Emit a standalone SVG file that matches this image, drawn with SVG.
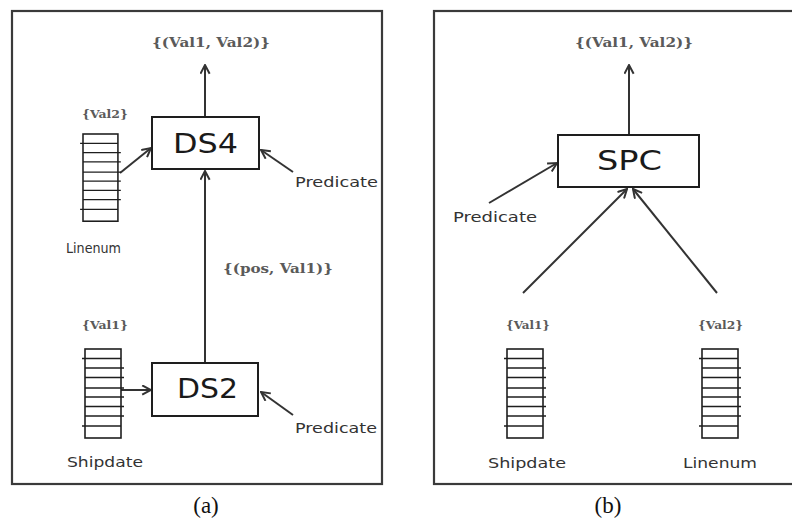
<svg xmlns="http://www.w3.org/2000/svg" xmlns:xlink="http://www.w3.org/1999/xlink" width="792" height="523" viewBox="0 0 792 523">
  <style>
    .frame { fill: none; stroke: #3a3a3a; stroke-width: 2.2; }
    .box { fill: #ffffff; stroke: #1e1e1e; stroke-width: 2; }
    .boxlabel { font-family: "DejaVu Sans", sans-serif; font-size: 27px; fill: #1a1a1a; text-anchor: middle; }
    .lbl { font-family: "DejaVu Sans", sans-serif; font-size: 14px; fill: #333333; }
    .val { font-family: "DejaVu Serif", serif; font-size: 11px; fill: #5a5a5a; font-weight: bold; }
    .set { font-family: "DejaVu Serif", serif; font-size: 12px; fill: #5a5a5a; font-weight: bold; }
    .cap { font-family: "Liberation Serif", serif; font-size: 23px; fill: #111111; text-anchor: middle; }
    .edge { fill: none; stroke: #333333; stroke-width: 2; marker-end: url(#open); }
    .col rect { fill: #ffffff; stroke: #1e1e1e; stroke-width: 1.6; }
    .col line { stroke: #1e1e1e; stroke-width: 1.3; }
  </style>
  <defs>
    <marker id="open" viewBox="0 0 10 10" refX="9" refY="5" markerWidth="11" markerHeight="11" markerUnits="userSpaceOnUse" orient="auto">
      <path d="M1,0.8 L9,5 L1,9.2" fill="none" stroke="#333333" stroke-width="1.8"/>
    </marker>
    <!-- column store: 9 rows, a few separator lines overshoot the sides -->
    <g id="column" class="col">
      <rect x="0" y="0" width="36" height="89"/>
      <line x1="-3" y1="9.5" x2="36" y2="9.5"/>
      <line x1="0" y1="19" x2="39" y2="19"/>
      <line x1="0" y1="28.5" x2="39" y2="28.5"/>
      <line x1="0" y1="39" x2="39" y2="39"/>
      <line x1="0" y1="48" x2="39" y2="48"/>
      <line x1="0" y1="57.5" x2="39" y2="57.5"/>
      <line x1="0" y1="67" x2="39" y2="67"/>
      <line x1="-3" y1="77" x2="36" y2="77"/>
    </g>
  </defs>

  <rect width="792" height="523" fill="#ffffff"/>

  <!-- panel frames -->
  <rect class="frame" x="12" y="11" width="370" height="473"/>
  <rect class="frame" x="434" y="11" width="400" height="473"/>

  <!-- connectors -->
  <g id="connectors">
    <line class="edge" x1="205" y1="117" x2="205" y2="65"/>
    <line class="edge" x1="120" y1="173" x2="151" y2="148"/>
    <line class="edge" x1="293" y1="172" x2="261" y2="150"/>
    <line class="edge" x1="205" y1="363" x2="205" y2="171"/>
    <line class="edge" x1="121" y1="390" x2="151" y2="390"/>
    <line class="edge" x1="293" y1="415" x2="261" y2="392"/>
    <line class="edge" x1="629" y1="135" x2="629" y2="65"/>
    <line class="edge" x1="489" y1="203" x2="557" y2="163"/>
    <line class="edge" x1="523" y1="293" x2="627" y2="189"/>
    <line class="edge" x1="717" y1="293" x2="633" y2="189"/>
  </g>

  <!-- panel (a) -->
  <g id="ds4">
    <rect class="box" x="152" y="117" width="107" height="52"/>
    <text class="boxlabel" x="205.5" y="153" textLength="65" lengthAdjust="spacingAndGlyphs">DS4</text>
  </g>
  <g id="ds2">
    <rect class="box" x="152" y="363" width="106" height="53"/>
    <text class="boxlabel" x="207.5" y="398" textLength="61" lengthAdjust="spacingAndGlyphs">DS2</text>
  </g>
  <g id="linenum-a">
    <use xlink:href="#column" transform="translate(83,134) scale(0.97,0.98)"/>
    <text class="val" x="82" y="118" textLength="46" lengthAdjust="spacingAndGlyphs">{Val2}</text>
    <text class="lbl" x="66" y="253" textLength="55" lengthAdjust="spacingAndGlyphs">Linenum</text>
  </g>
  <g id="shipdate-a">
    <use xlink:href="#column" transform="translate(85,349)"/>
    <text class="val" x="82" y="329" textLength="46" lengthAdjust="spacingAndGlyphs">{Val1}</text>
    <text class="lbl" x="67" y="467" textLength="76" lengthAdjust="spacingAndGlyphs">Shipdate</text>
  </g>
  <g id="predicate-ds4">
    <text class="lbl" x="295" y="187" textLength="83" lengthAdjust="spacingAndGlyphs">Predicate</text>
  </g>
  <g id="predicate-ds2">
    <text class="lbl" x="295" y="433" textLength="82" lengthAdjust="spacingAndGlyphs">Predicate</text>
  </g>
  <g id="result-a">
    <text class="set" x="152" y="47" textLength="118" lengthAdjust="spacingAndGlyphs">{(Val1, Val2)}</text>
  </g>
  <g id="positions">
    <text class="set" x="223" y="273" textLength="110" lengthAdjust="spacingAndGlyphs">{(pos, Val1)}</text>
  </g>
  <text class="cap" x="206" y="513">(a)</text>

  <!-- panel (b) -->
  <g id="spc">
    <rect class="box" x="558" y="135" width="141" height="52"/>
    <text class="boxlabel" x="629.5" y="170" textLength="65" lengthAdjust="spacingAndGlyphs">SPC</text>
  </g>
  <g id="predicate-spc">
    <text class="lbl" x="453" y="222" textLength="84" lengthAdjust="spacingAndGlyphs">Predicate</text>
  </g>
  <g id="shipdate-b">
    <use xlink:href="#column" transform="translate(507,349)"/>
    <text class="val" x="506" y="329" textLength="44" lengthAdjust="spacingAndGlyphs">{Val1}</text>
    <text class="lbl" x="488" y="468" textLength="78" lengthAdjust="spacingAndGlyphs">Shipdate</text>
  </g>
  <g id="linenum-b">
    <use xlink:href="#column" transform="translate(702,349)"/>
    <text class="val" x="698" y="329" textLength="45" lengthAdjust="spacingAndGlyphs">{Val2}</text>
    <text class="lbl" x="683" y="468" textLength="74" lengthAdjust="spacingAndGlyphs">Linenum</text>
  </g>
  <g id="result-b">
    <text class="set" x="575" y="47" textLength="118" lengthAdjust="spacingAndGlyphs">{(Val1, Val2)}</text>
  </g>
  <text class="cap" x="608" y="513">(b)</text>
</svg>
